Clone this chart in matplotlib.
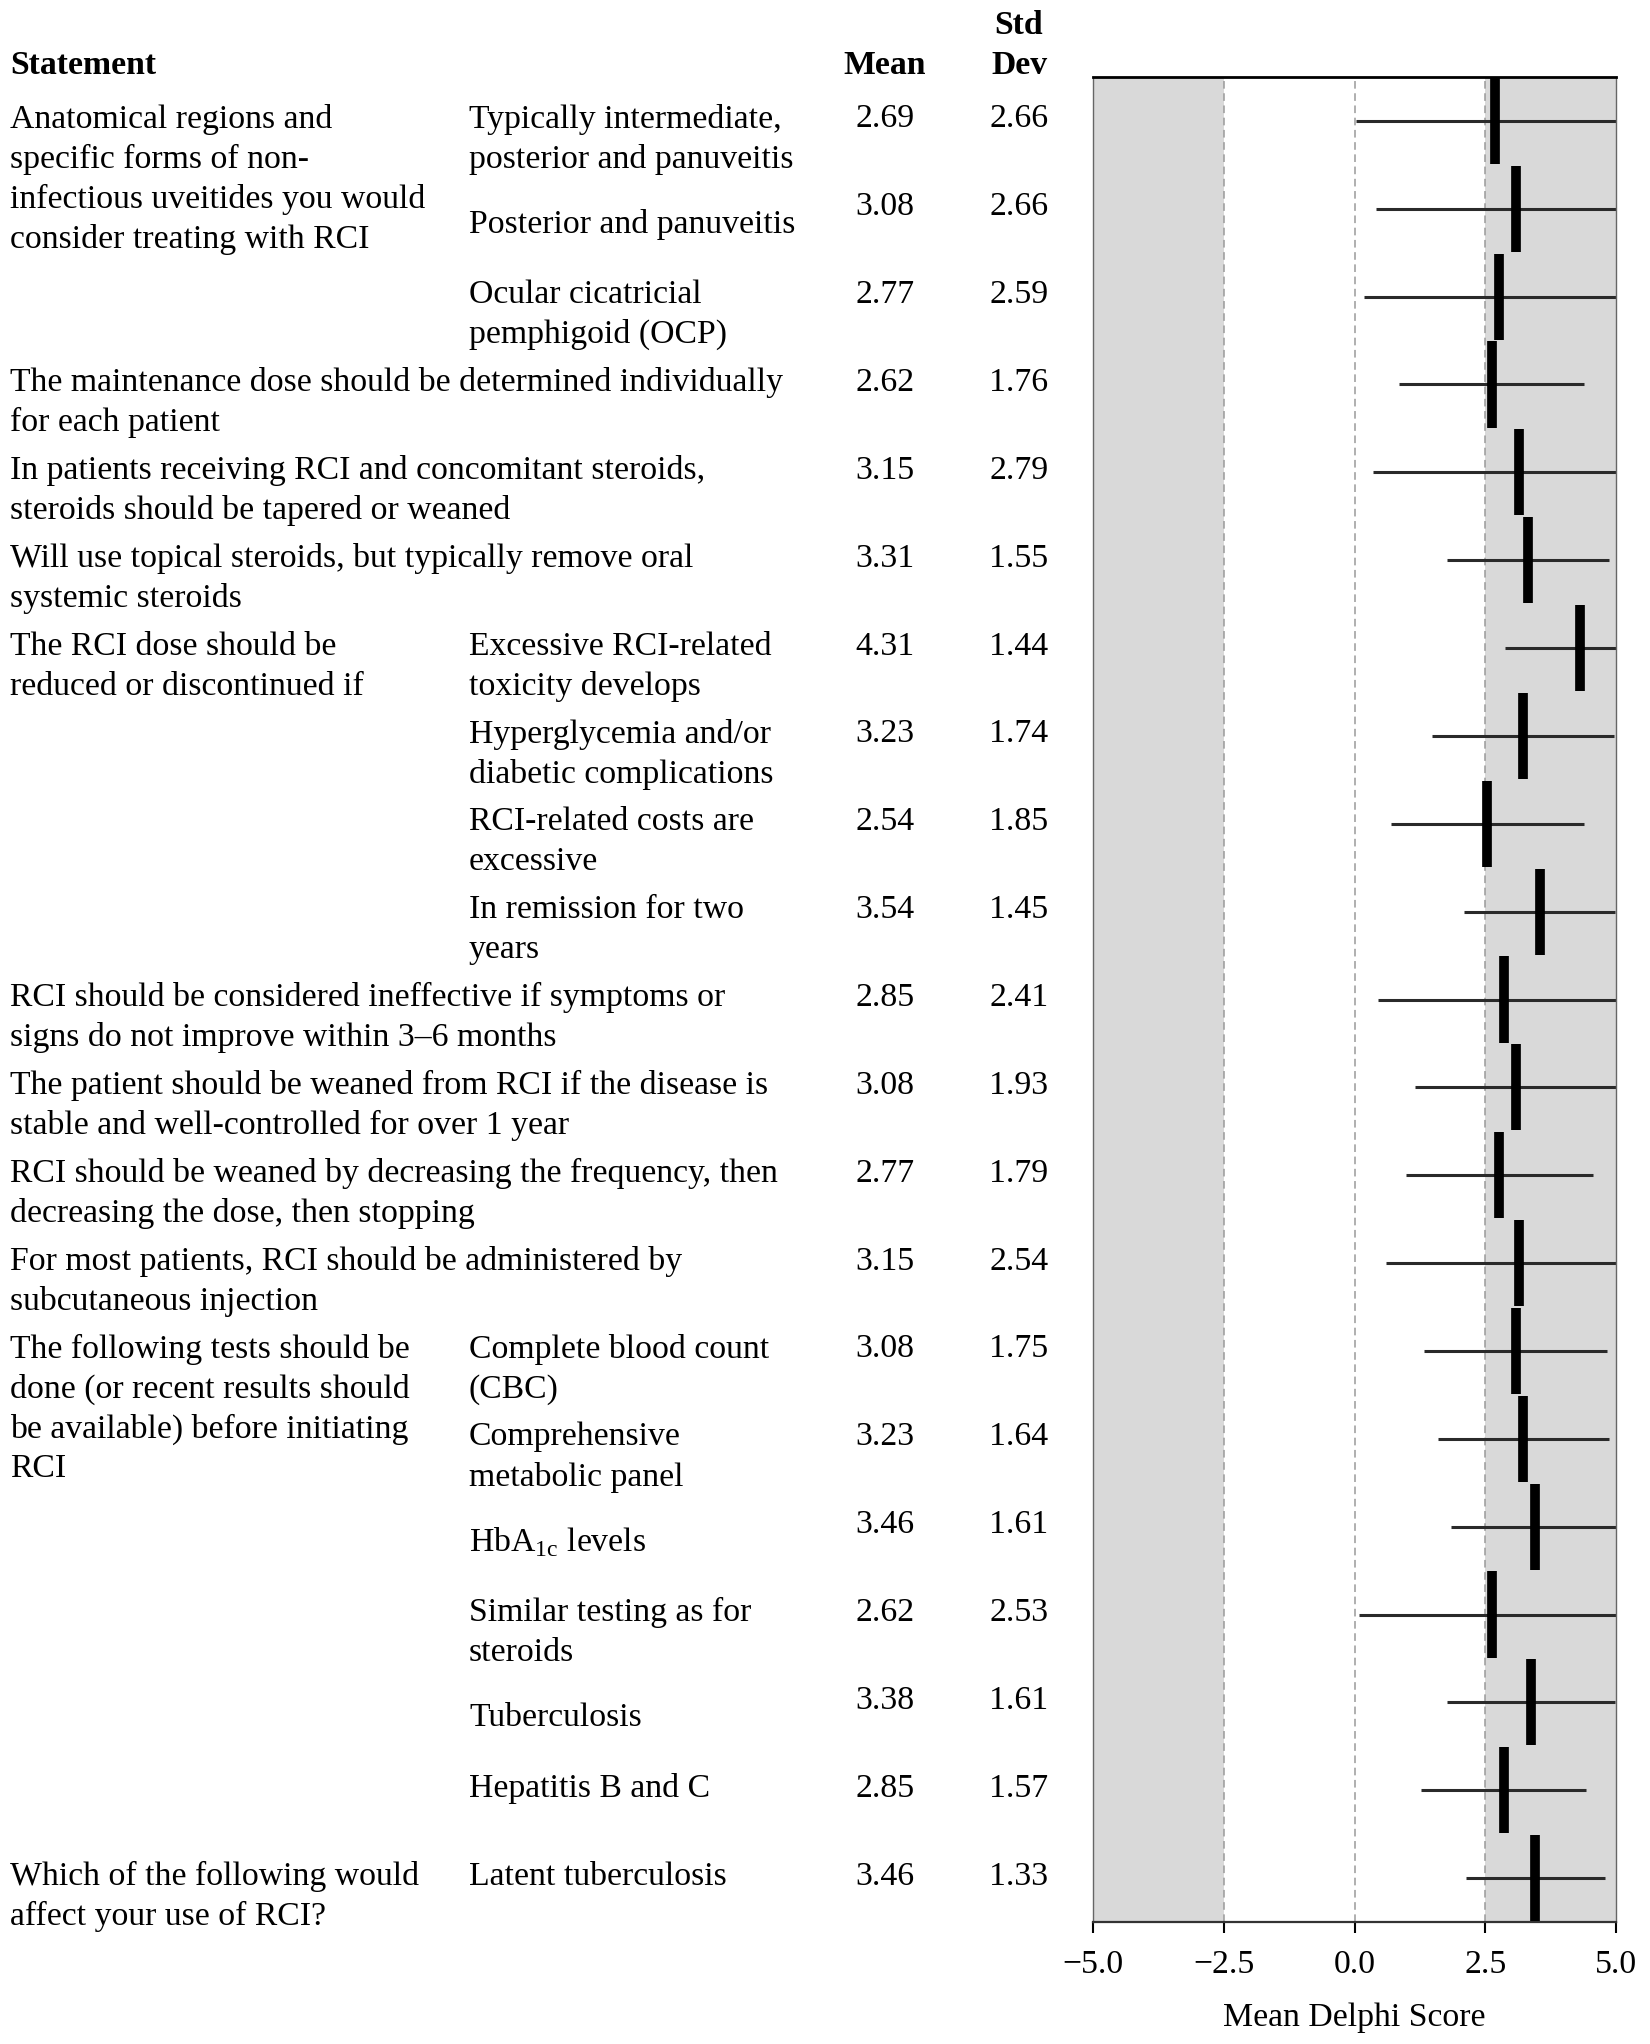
import numpy as np
import matplotlib
matplotlib.use("Agg")
from matplotlib import pyplot as plt
from matplotlib import transforms

# Statement text (first column), sub-item text (second column), mean and SD
statements = [
    "Anatomical regions and\nspecific forms of non-\ninfectious uveitides you would\nconsider treating with RCI",
    "", "",
    "The maintenance dose should be determined individually\nfor each patient",
    "In patients receiving RCI and concomitant steroids,\nsteroids should be tapered or weaned",
    "Will use topical steroids, but typically remove oral\nsystemic steroids",
    "The RCI dose should be\nreduced or discontinued if",
    "", "", "",
    "RCI should be considered ineffective if symptoms or\nsigns do not improve within 3\u20136 months",
    "The patient should be weaned from RCI if the disease is\nstable and well-controlled for over 1 year",
    "RCI should be weaned by decreasing the frequency, then\ndecreasing the dose, then stopping",
    "For most patients, RCI should be administered by\nsubcutaneous injection",
    "The following tests should be\ndone (or recent results should\nbe available) before initiating\nRCI",
    "", "", "", "", "",
    "Which of the following would\naffect your use of RCI?",
]
subitems = [
    "Typically intermediate,\nposterior and panuveitis",
    "Posterior and panuveitis",
    "Ocular cicatricial\npemphigoid (OCP)",
    "", "", "",
    "Excessive RCI-related\ntoxicity develops",
    "Hyperglycemia and/or\ndiabetic complications",
    "RCI-related costs are\nexcessive",
    "In remission for two\nyears",
    "", "", "", "",
    "Complete blood count\n(CBC)",
    "Comprehensive\nmetabolic panel",
    r"HbA$_{\mathrm{1c}}$ levels",
    "Similar testing as for\nsteroids",
    "Tuberculosis",
    "Hepatitis B and C",
    "Latent tuberculosis",
]
means = [2.69, 3.08, 2.77, 2.62, 3.15, 3.31, 4.31, 3.23, 2.54, 3.54, 2.85,
         3.08, 2.77, 3.15, 3.08, 3.23, 3.46, 2.62, 3.38, 2.85, 3.46]
sds = [2.66, 2.66, 2.59, 1.76, 2.79, 1.55, 1.44, 1.74, 1.85, 1.45, 2.41,
       1.93, 1.79, 2.54, 1.75, 1.64, 1.61, 2.53, 1.61, 1.57, 1.33]
xticks = [-5.0, -2.5, 0.0, 2.5, 5.0]

# single-line sub-items that sit half a line lower
mid_rows = [1, 16, 18]

plt.rcParams['font.family'] = ['Liberation Serif', 'DejaVu Serif']
plt.rcParams['mathtext.fontset'] = 'custom'
plt.rcParams['mathtext.rm'] = 'Liberation Serif'
plt.rcParams['font.size'] = 24.3

W, H = 1650, 2044
fig = plt.figure(figsize=(W / 100, H / 100), dpi=100)
ax = fig.add_axes([1093 / W, 1 - 1922 / H, 523 / W, 1845 / H])

n = len(means)
ypos = np.arange(n)
m = np.array(means)
s = np.array(sds)

ax.set_xlim(-5, 5)
ax.set_ylim(n - 0.5, -0.5)

# shaded zones and reference lines
ax.axvspan(-5, -2.5, color='#d9d9d9', zorder=0, lw=0)
ax.axvspan(2.5, 5, color='#d9d9d9', zorder=0, lw=0)
for xv in [-2.5, 0, 2.5]:
    ax.axvline(xv, color='#9a9a9a', ls=(0, (5, 3)), lw=1.1, zorder=1)

# mean +/- SD lines and mean bars
ax.hlines(ypos, m - s, m + s, color='#2a2a2a', lw=2.2, zorder=2)
ax.vlines(m, ypos - 0.49, ypos + 0.49, color='black', lw=7, zorder=3)

ax.set_yticks([])
ax.set_xticks(xticks)
ax.set_xticklabels([f"{t:.1f}".replace('-', '\u2212') for t in xticks])
ax.tick_params(axis='x', direction='out', length=8, width=1.5, pad=12, labelsize=24.3)
ax.set_xlabel("Mean Delphi Score", fontsize=24.3, labelpad=16)

ax.spines['top'].set_linewidth(2)
ax.spines['bottom'].set_linewidth(1.6)
ax.spines['bottom'].set_color('#333333')
ax.spines['left'].set_color('#666666')
ax.spines['right'].set_color('#666666')
ax.spines['left'].set_linewidth(1)
ax.spines['right'].set_linewidth(1)

# table text: x in figure fraction, y in data rows
trans = transforms.blended_transform_factory(fig.transFigure, ax.transData)
x_stmt = 10 / W
x_sub = 469 / W
x_mean = 885 / W
x_sd = 1019 / W
line = 0.455
off = -0.02

for i in range(n):
    for k, txt in enumerate(statements[i].split("\n")):
        if txt:
            fig.text(x_stmt, i + off + k * line, txt, transform=trans,
                     ha='left', va='center')
    shift = 0.2 if i in mid_rows else 0
    for k, txt in enumerate(subitems[i].split("\n")):
        if txt:
            fig.text(x_sub, i + off + shift + k * line, txt, transform=trans,
                     ha='left', va='center')
    fig.text(x_mean, i + off, f"{means[i]:.2f}", transform=trans,
             ha='center', va='center')
    fig.text(x_sd, i + off, f"{sds[i]:.2f}", transform=trans,
             ha='center', va='center')

# headers
fig.text(x_stmt, 1 - 65 / H, "Statement", ha='left', va='center', weight='bold')
fig.text(x_mean, 1 - 65 / H, "Mean", ha='center', va='center', weight='bold')
fig.text(x_sd, 1 - 25 / H, "Std", ha='center', va='center', weight='bold')
fig.text(x_sd, 1 - 65 / H, "Dev", ha='center', va='center', weight='bold')

fig.savefig("out.png", dpi=100)
